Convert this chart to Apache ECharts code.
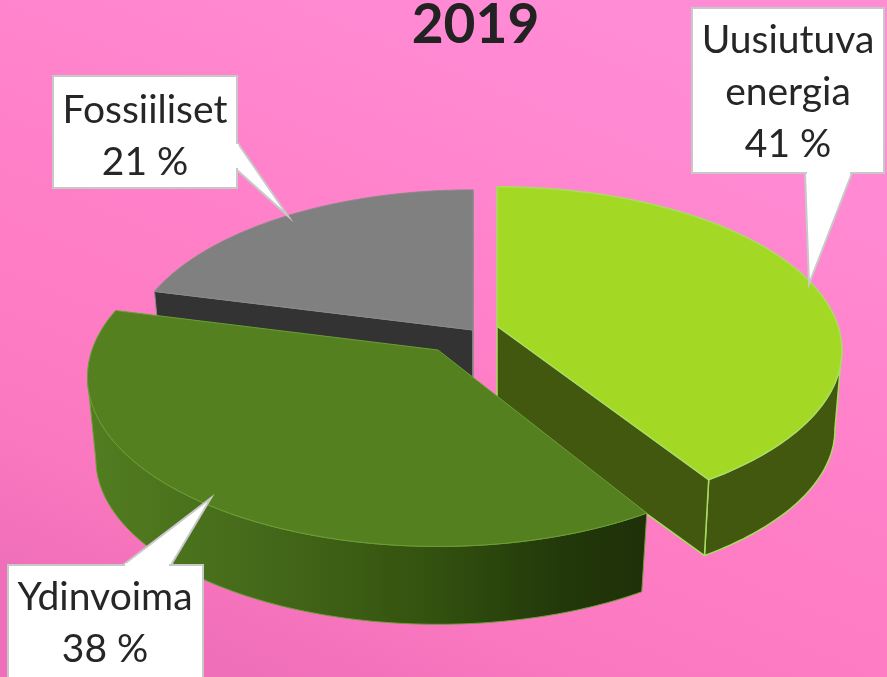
<!DOCTYPE html>
<html><head><meta charset="utf-8">
<style>html,body{margin:0;padding:0;overflow:hidden}#c{width:887px;height:677px}</style>
<script src="https://cdn.jsdelivr.net/npm/echarts@6/dist/echarts.min.js"></script>
</head><body><div id="c"></div>
<script>
const title = '2019';
const categories = ['Uusiutuva energia', 'Ydinvoima', 'Fossiiliset'];
const labelLines = [['Uusiutuva', 'energia'], ['Ydinvoima'], ['Fossiiliset']];
const values = [41, 38, 21];
// presentation only
const apexes = [[497, 326], [438, 350], [473, 330]];
const topColors = ['#a3d924', '#548020', '#808080'];
const wallColors = ['#42580f', null, '#333333'];
const edgeColors = ['#a9dd62', '#6b9f35', '#8a8a8a'];
const boxes = [[692, 8, 192, 165], [8, 565, 195, 130], [53, 76, 184, 112]];
const pointers = [[[805, 173], [809, 284], [852, 173]], [[123, 565], [211, 498], [171, 565]], [[237, 142], [288, 216], [237, 170]]];
const labelCenters = [[788, 92], [105, 623], [145, 136]];
// per-slice projection tuning: rx, ry, perspective, angle nudges, depth vanishing x, shrink, y offset
const sliceAX = [341, 346, 341];
const sliceAY = [160, 165, 161];
const sliceP = [0.149, 0.16, 0.149];
const startNudge = [0, 1, 0];
const endNudge = [-0.5, 0, 0];
const depthVX = [497, 438, 473];
const depthShrink = [0.98, 0.976, 0.976];
const depthOff = [87.5, 91, 87.5];

function proj(i, deg) {
  const t = deg * Math.PI / 180, u = Math.sin(t), v = -Math.cos(t), d = 1 - sliceP[i] * v;
  return [apexes[i][0] + sliceAX[i] * u / d, apexes[i][1] + sliceAY[i] * v / d];
}
function down(i, p) { return [depthVX[i] + depthShrink[i] * (p[0] - depthVX[i]), p[1] * 0.976 + depthOff[i]]; }
function arc(i, a, b) {
  const n = Math.max(2, Math.ceil(Math.abs(b - a))), out = [];
  for (let k = 0; k <= n; k++) out.push(proj(i, a + (b - a) * k / n));
  return out;
}
const total = values.reduce((s, x) => s + x, 0);
const starts = []; values.reduce((s, x, i) => (starts[i] = s, s + x), 0);
// index of the rim point where the outer wall turns out of sight
function extremeIndex(rim, sign) {
  let best = 0;
  rim.forEach((p, k) => { if (sign * p[0] > sign * rim[best][0]) best = k; });
  return best;
}

function renderItem(params, api) {
  const i = params.dataIndex, val = api.value(1);
  const a0 = starts[i] / total * 360 + startNudge[i], a1 = (starts[i] + val) / total * 360 + endNudge[i];
  const apex = apexes[i], rim = arc(i, a0, a1), kids = [];
  const stroke = edgeColors[i], dn = p => down(i, p);
  const poly = (pts, fill, lw) => ({ type: 'polygon', shape: { points: pts }, style: { fill, stroke, lineWidth: lw, lineJoin: 'round' } });
  if (i === 0) {
    const a = dn(apex), e = rim[rim.length - 1], eb = dn(e);
    const vis = rim.slice(extremeIndex(rim, 1));
    kids.push(poly(vis.concat(vis.map(dn).reverse()), wallColors[0], 1.5));
    kids.push(poly([apex, e, eb, a], wallColors[0], 1.5));
  } else if (i === 1) {
    const grad = new echarts.graphic.LinearGradient(0, 0, 1, 0, [
      { offset: 0, color: '#527d20' }, { offset: 0.3, color: '#456a1a' },
      { offset: 0.6, color: '#34530f' }, { offset: 0.85, color: '#22380a' }, { offset: 1, color: '#1f3008' }]);
    const vis = rim.slice(0, extremeIndex(rim, -1) + 1);
    kids.push(poly(vis.concat(vis.map(dn).reverse()), grad, 1));
  } else {
    const s = rim[0], sb = dn(s), ab = dn(apex);
    kids.push(poly([s, apex, ab, sb], wallColors[2], 1));
    kids.push(poly([apex, rim[rim.length - 1], dn(rim[rim.length - 1]), ab], wallColors[2], 1));
  }
  kids.push(poly([apex].concat(rim), topColors[i], i === 0 ? 1.5 : 1));
  return { type: 'group', children: kids };
}

function renderLabel(params, api) {
  const i = params.dataIndex, b = boxes[i], c = labelCenters[i], q = pointers[i];
  const fill = '#fff', stroke = '#c8c8c8';
  // white line hides the rectangle border where the pointer joins it
  const vertical = q[0][0] === q[2][0];
  const seam = vertical
    ? { x1: q[0][0], y1: q[0][1] + 2, x2: q[2][0], y2: q[2][1] - 2 }
    : { x1: q[0][0] + 2, y1: q[0][1], x2: q[2][0] - 2, y2: q[2][1] };
  return { type: 'group', children: [
    { type: 'polygon', shape: { points: q }, style: { fill, stroke, lineWidth: 2, lineJoin: 'miter' } },
    { type: 'rect', shape: { x: b[0], y: b[1], width: b[2], height: b[3] }, style: { fill, stroke, lineWidth: 2 } },
    { type: 'line', shape: seam, style: { stroke: fill, lineWidth: 3 } },
    { type: 'text', style: { x: c[0], y: c[1], text: labelLines[i].concat([api.value(1) + ' %']).join('\n'), fill: '#262626', font: '39px Lato, "Open Sans", sans-serif', lineHeight: 52, align: 'center', verticalAlign: 'middle' } }
  ]};
}
const chart = echarts.init(document.getElementById('c'), null, { renderer: 'canvas' });
const seriesData = categories.map((n, i) => ({ name: n, value: [i, values[i]] }));
const drawOrder = [2, 0, 1];
chart.setOption({
  animation: false,
  backgroundColor: new echarts.graphic.LinearGradient(0.3, 1, 0.62, 0, [
    { offset: 0, color: '#ef6fb8' }, { offset: 0.2, color: '#fb79c1' }, { offset: 0.5, color: '#ff7fc7' }, { offset: 1, color: '#ff8cd5' }]),
  title: { text: title, left: 470.5, top: -7, textAlign: 'center', textStyle: { fontFamily: 'Lato, sans-serif', fontWeight: 'bold', fontSize: 55, color: '#222222' } },
  series: [
    ...drawOrder.map(k => ({ type: 'custom', coordinateSystem: 'none', silent: true, data: seriesData, z: 2,
      renderItem: (p, api) => p.dataIndex === k ? renderItem(p, api) : { type: 'group', children: [] } })),
    { type: 'custom', coordinateSystem: 'none', silent: true, renderItem: renderLabel, data: seriesData, z: 5 }
  ]
});
</script></body></html>
